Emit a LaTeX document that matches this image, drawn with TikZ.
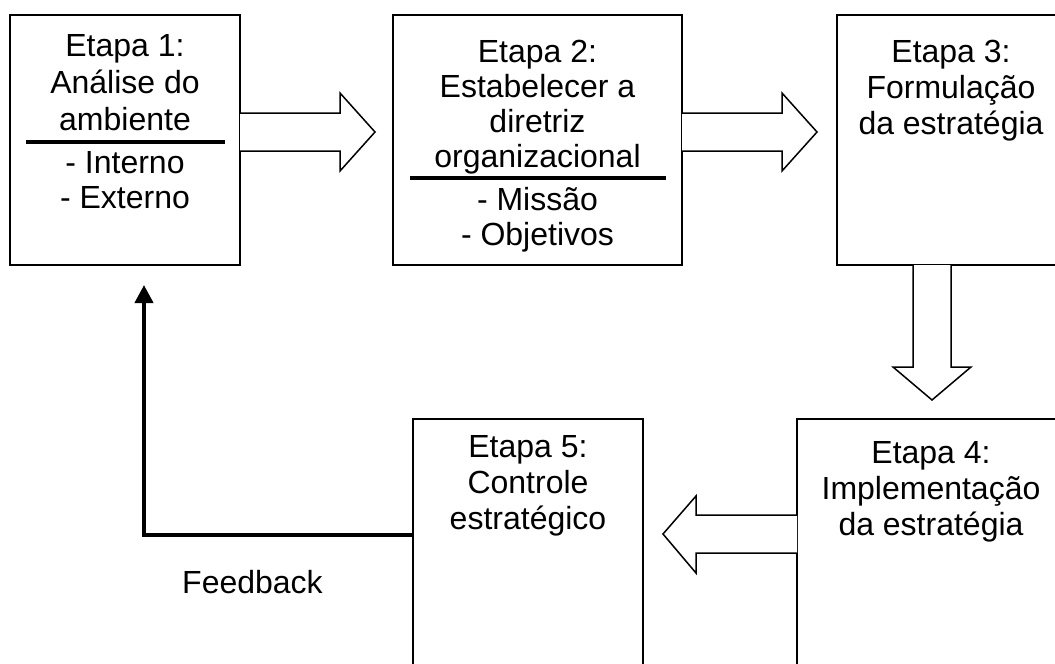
\documentclass[tikz,border=0pt]{standalone}
\usepackage{fontspec}
\setmainfont{Liberation Sans}
\usetikzlibrary{arrows.meta,calc}
\begin{document}
\begin{tikzpicture}[x=1pt,y=-1pt,
  stage/.style={draw=black, line width=1.8pt, inner sep=0pt, outer sep=0pt, minimum height=250pt},
  txt/.style={anchor=north, align=center, inner sep=0pt, font=\fontsize{32}{#1}\selectfont},
  txt/.default=36,
  rule/.style={line width=4pt},
  blockarrow/.style={draw=black, fill=white, line width=1.5pt, line join=miter},
  feedback/.style={line width=4pt, line join=miter, -{Triangle[length=18pt,width=18pt]}}
]
\useasboundingbox (0,0) rectangle (1055,664);
\clip (0,0) rectangle (1055,664);

% stage boxes
\node[stage, minimum width=230pt] (b1) at (125,140) {};
\node[stage, minimum width=289pt] (b2) at (537.5,140) {};
\node[stage, minimum width=228pt] (b3) at (951,140) {};
\node[stage, minimum width=268pt] (b4) at (931,544) {};
\node[stage, minimum width=230pt] (b5) at (528,544) {};

% stage texts (stages 1 and 2 have a heading block and a list block)
\node[txt=37] (t1) at (125,34) {Etapa 1:\\Análise do\\ambiente};
\node[txt=35] (t1b) at (125,151) {- Interno\\- Externo};
\node[txt=35] (t2) at (537.5,40) {Etapa 2:\\Estabelecer a\\diretriz\\organizacional};
\node[txt=35] (t2b) at (537.5,187) {- Missão\\- Objetivos};
\node[txt] (t3) at (951,40) {Etapa 3:\\Formulação\\da estratégia};
\node[txt] (t4) at (931,441) {Etapa 4:\\Implementação\\da estratégia};
\node[txt] (t5) at (528,435) {Etapa 5:\\Controle\\estratégico};

% dividing rules inside stages 1 and 2
\draw[rule] (26,142) -- (225,142);
\draw[rule] (410,178) -- (666,178);

% block arrows between stages
\draw[blockarrow] (b1.east |- 0,113) -- (340,113) -- (340,93) -- (375,132)
  -- (340,171) -- (340,151) -- (b1.east |- 0,151);
\draw[blockarrow] (b2.east |- 0,113) -- (782,113) -- (782,93) -- (817,132)
  -- (782,171) -- (782,151) -- (b2.east |- 0,151);
\draw[blockarrow] (913,0 |- b3.south) -- (913,367) -- (893,367) -- (932,400)
  -- (971,367) -- (951,367) -- (951,0 |- b3.south);
\draw[blockarrow] (b4.west |- 0,515) -- (696,515) -- (696,496) -- (663,534)
  -- (696,573) -- (696,553) -- (b4.west |- 0,553);

% feedback loop
\coordinate (fbend) at (144,285);
\draw[feedback] (b5.west |- 0,535) -| (fbend);
\node[anchor=base, inner sep=0pt, font=\fontsize{32}{37}\selectfont] (fb) at (252.5,593) {Feedback};
\end{tikzpicture}
\end{document}
